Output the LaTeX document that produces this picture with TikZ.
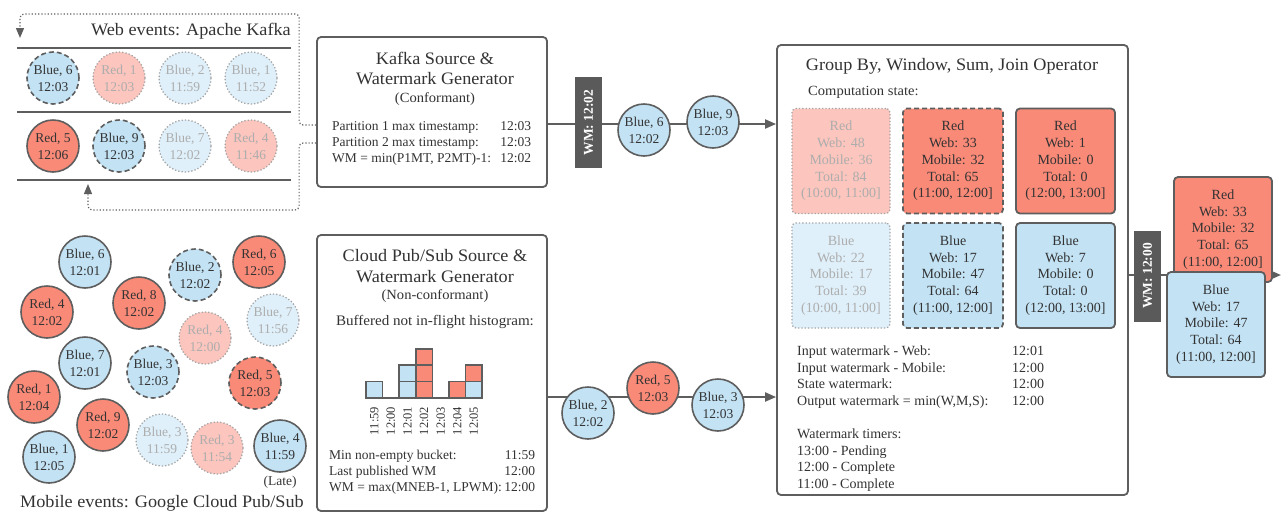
\documentclass[tikz,border=0pt]{standalone}
\usepackage{fontspec}
\setmainfont{Liberation Serif}
\newfontfamily\widefont{Liberation Serif}[FakeStretch=1.04]
\usetikzlibrary{arrows.meta,calc}
\definecolor{ink}{HTML}{333333}
\definecolor{edge}{HTML}{5E5E5E}
\definecolor{redf}{HTML}{FA8A78}
\definecolor{bluef}{HTML}{C3E3F5}
\definecolor{redl}{HTML}{FCC5BD}
\definecolor{bluel}{HTML}{DFF0FA}
\definecolor{fadetxt}{HTML}{ADADAD}
\definecolor{fadeedge}{HTML}{A5A5A5}
\definecolor{wmfill}{HTML}{5A5A5A}
\newcommand\fsz[2]{\fontsize{#1}{#2}\selectfont}

\begin{document}
\begin{tikzpicture}[x=1pt,y=-1pt,
  every node/.style={text=ink},
  ev/.style={circle,minimum size=52pt,inner sep=0pt,line width=1.6pt,draw=edge,
    align=center,font=\fsz{13.5}{17}},
  evb/.style={ev,fill=bluef},
  evr/.style={ev,fill=redf},
  evdash/.style={dash pattern=on 5pt off 3pt},
  evfade/.style={draw=fadeedge,line width=1.3pt,dash pattern=on 1.3pt off 2pt,text=fadetxt},
  evfb/.style={evb,evfade,fill=bluel},
  evfr/.style={evr,evfade,fill=redl},
  panel/.style={draw=edge,line width=1.8pt,rounded corners=4pt,fill=white},
  rule/.style={draw=edge,line width=1.8pt},
  loopline/.style={draw=edge,line width=1.2pt,dotted,rounded corners=4pt,
    -{Triangle[length=10pt,width=8pt]}},
  flow/.style={draw=edge,line width=2pt,-{Triangle[length=11pt,width=9pt]}},
  wm/.style={fill=wmfill,rotate=90,minimum width=91pt,minimum height=27pt,
    inner sep=0pt,text=white,font=\fsz{13.5}{15}\bfseries},
  sbox/.style={rectangle,rounded corners=4pt,line width=1.8pt,draw=edge,align=center,
    font=\fsz{14}{16.7},inner sep=0pt,minimum width=98pt,minimum height=105pt},
  sred/.style={sbox,fill=redf},
  sblue/.style={sbox,fill=bluef},
  sfade/.style={draw=fadeedge,line width=1.3pt,dash pattern=on 1.3pt off 2pt,text=fadetxt},
  title/.style={font=\widefont\fsz{17.5}{21},inner sep=0pt},
  sub/.style={font=\widefont\fsz{14}{16},inner sep=0pt},
  body/.style={font=\fsz{13.5}{16},inner sep=0pt,align=left},
]
\useasboundingbox (0,0) rectangle (1286,512);

% ---------- Web events (Kafka partitions) ----------
\node[title,anchor=east] (webcap) at (291,31) {Web events: Apache Kafka};
\draw[rule] (17,48) -- (291,48);
\draw[rule] (17,112) -- (291,112);
\draw[rule] (17,180) -- (291,180);

\node[evb,evdash] (w11) at (53,78)  {Blue, 6\\12:03};
\node[evfr]       (w12) at (119,78) {Red, 1\\12:03};
\node[evfb]       (w13) at (185,78) {Blue, 2\\11:59};
\node[evfb]       (w14) at (251,78) {Blue, 1\\11:52};
\node[evr]        (w21) at (53,146) {Red, 5\\12:06};
\node[evb,evdash] (w22) at (119,146){Blue, 9\\12:03};
\node[evfb]       (w23) at (185,146){Blue, 7\\12:02};
\node[evfr]       (w24) at (251,146){Red, 4\\11:46};

% ---------- Mobile events (Pub/Sub) ----------
\node[evb] (m1)  at (85,262)  {Blue, 6\\12:01};
\node[evr] (m2)  at (47,312)  {Red, 4\\12:02};
\node[evb] (m3)  at (85,363)  {Blue, 7\\12:01};
\node[evr] (m4)  at (34,397)  {Red, 1\\12:04};
\node[evb] (m5)  at (49,457)  {Blue, 1\\12:05};
\node[evr] (m6)  at (103,425) {Red, 9\\12:02};
\node[evr] (m7)  at (139,303) {Red, 8\\12:02};
\node[evb,evdash] (m8) at (153,372) {Blue, 3\\12:03};
\node[evb,evdash] (m9) at (195,275) {Blue, 2\\12:02};
\node[evfr] (m10) at (205,338) {Red, 4\\12:00};
\node[evfb] (m11) at (162,440) {Blue, 3\\11:59};
\node[evfr] (m12) at (217,448) {Red, 3\\11:54};
\node[evr]  (m13) at (259,262) {Red, 6\\12:05};
\node[evfb] (m14) at (273,320) {Blue, 7\\11:56};
\node[evr,evdash] (m15) at (255,383) {Red, 5\\12:03};
\node[evb]  (m16) at (280,446) {Blue, 4\\11:59};
\node[font=\fsz{13.5}{15},inner sep=0pt] (late) at (280,482) {(Late)};
\node[title] (mobcap) at (162,503) {Mobile events: Google Cloud Pub/Sub};

% ---------- Kafka source ----------
\node[panel,minimum width=230pt,minimum height=150pt] (kafka) at (432,112) {};
\node[title] (kt1) at (435,58) {Kafka Source \&};
\node[title] (kt2) at (435,79) {Watermark Generator};
\node[sub]   (kt3) at (435,99) {(Conformant)};
\node[body,anchor=west] (kbody) at (332,143) {%
  \begin{tabular}{@{}l@{}}
  \makebox[199pt][l]{Partition 1 max timestamp:\hfill 12:03}\\
  \makebox[199pt][l]{Partition 2 max timestamp:\hfill 12:03}\\
  \makebox[199pt][l]{WM = min(P1MT, P2MT)-1:\hfill 12:02}
  \end{tabular}};

\coordinate (qtop) at (20,38);
\coordinate (qbot) at (88,184);
\draw[loopline] ([yshift=-13pt]kafka.west) -- ++(-17,0) |- (20,14) -- (qtop);
\draw[loopline] ([yshift=-31pt]kafka.west) -- ++(-17,0) |- (88,210) -- (qbot);

% ---------- Pub/Sub source ----------
\node[panel,minimum width=230pt,minimum height=276pt] (pubsub) at (432,373) {};
\node[title] (pt1) at (435,256) {Cloud Pub/Sub Source \&};
\node[title] (pt2) at (435,277) {Watermark Generator};
\node[sub]   (pt3) at (435,296) {(Non-conformant)};
\node[sub,font=\widefont\fsz{14.5}{16}] (pt4) at (435,322) {Buffered not in-flight histogram:};

\foreach \c/\r/\col in {0/0/bluef,2/0/bluef,2/1/bluef,3/0/redf,3/1/redf,3/2/redf,
                       5/0/redf,6/0/bluef,6/1/redf}
  \draw[fill=\col,draw=edge,line width=1.6pt]
    (366+\c*16.6,398-\r*16.4) rectangle ++(16.6,-16.4);
\draw[draw=edge,line width=2pt] (366,398) -- (482.2,398);
\foreach \t [count=\i from 0] in {11:59,12:00,12:01,12:02,12:03,12:04,12:05}
  \node[rotate=90,inner sep=0pt,font=\fsz{12.5}{14}] (hl\i) at (374.3+\i*16.6,421) {\t};

\node[body,anchor=west] (pbody) at (329,472) {%
  \begin{tabular}{@{}l@{}}
  \makebox[206pt][l]{Min non-empty bucket:\hfill 11:59}\\
  \makebox[206pt][l]{Last published WM\hfill 12:00}\\
  \makebox[206pt][l]{WM = max(MNEB-1, LPWM):\hfill 12:00}
  \end{tabular}};

% ---------- Operator ----------
\node[panel,minimum width=351pt,minimum height=450pt] (op) at (952.5,270) {};
\node[title] (ot) at (952,66) {Group By, Window, Sum, Join Operator};
\node[font=\widefont\fsz{14}{16},inner sep=0pt,anchor=west] (cs) at (808,92) {Computation state:};

\node[sred,sfade,fill=redl,minimum width=98pt] (r1) at (841,161)
  {Red\\Web: 48\\Mobile: 36\\Total: 84\\(10:00, 11:00]};
\node[sred,evdash,minimum width=100pt] (r2) at (953,161)
  {Red\\Web: 33\\Mobile: 32\\Total: 65\\(11:00, 12:00]};
\node[sred,minimum width=99pt] (r3) at (1065.5,161)
  {Red\\Web: 1\\Mobile: 0\\Total: 0\\(12:00, 13:00]};
\node[sblue,sfade,fill=bluel,minimum width=98pt] (b1) at (841,275.5)
  {Blue\\Web: 22\\Mobile: 17\\Total: 39\\(10:00, 11:00]};
\node[sblue,evdash,minimum width=100pt] (b2) at (953,275.5)
  {Blue\\Web: 17\\Mobile: 47\\Total: 64\\(11:00, 12:00]};
\node[sblue,minimum width=99pt] (b3) at (1065.5,275.5)
  {Blue\\Web: 7\\Mobile: 0\\Total: 0\\(12:00, 13:00]};

\node[font=\fsz{14}{16.6},inner sep=0pt,anchor=west] (obody) at (797,418.5) {%
  \begin{tabular}{@{}l@{}}
  \makebox[215pt][l]{Input watermark - Web:}12:01\\
  \makebox[215pt][l]{Input watermark - Mobile:}12:00\\
  \makebox[215pt][l]{State watermark:}12:00\\
  \makebox[215pt][l]{Output watermark = min(W,M,S):}12:00\\
  \\
  Watermark timers:\\
  13:00 - Pending\\
  12:00 - Complete\\
  11:00 - Complete
  \end{tabular}};

% ---------- Flows into the operator ----------
\draw[flow] ([yshift=-12pt]kafka.east) -- ([yshift=-12pt]kafka.east -| op.west);
\node[wm]  (wm1) at (588.5,122.5) {WM: 12:02};
\node[evb] (k1) at (644,130) {Blue, 6\\12:02};
\node[evb] (k2) at (713,122) {Blue, 9\\12:03};

\draw[flow] ([yshift=-24pt]pubsub.east) -- ([yshift=-24pt]pubsub.east -| op.west);
\node[evb] (p1) at (588,413) {Blue, 2\\12:02};
\node[evr] (p2) at (653,388) {Red, 5\\12:03};
\node[evb] (p3) at (718,405) {Blue, 3\\12:03};

% ---------- Output ----------
\coordinate (outend) at (1281,275);
\draw[flow] ([yshift=-5pt]op.east) -- (outend);
\node[wm] (wm2) at (1147.5,276) {WM: 12:00};
\node[sred] (or) at (1223,229.5)
  {Red\\Web: 33\\Mobile: 32\\Total: 65\\(11:00, 12:00]};
\node[sblue] (ob) at (1216,324.5)
  {Blue\\Web: 17\\Mobile: 47\\Total: 64\\(11:00, 12:00]};
\end{tikzpicture}
\end{document}
